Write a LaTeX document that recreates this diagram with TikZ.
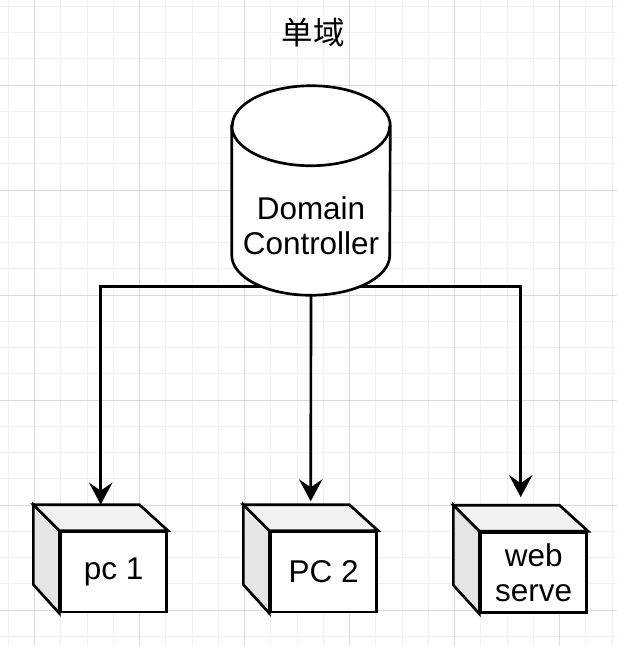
\documentclass[tikz,border=0pt]{standalone}
\usepackage{fontspec}
\setmainfont{Liberation Sans}
\newfontfamily\cjkfont{Noto Sans CJK SC}
\usetikzlibrary{arrows.meta,calc}

\tikzset{
  gridminor/.style={draw=black!6, line width=0.75pt},
  gridmajor/.style={draw=black!15, line width=0.75pt},
  outline/.style={draw=black, line width=2pt, line join=miter},
  front/.style={outline, fill=white, minimum width=79.5pt, minimum height=60pt,
    inner sep=0pt, align=center, font=\fontsize{23.6}{26.25}\selectfont},
  link/.style={draw=black, line width=2pt,
    -{Stealth[length=16.5pt, width=17.5pt, inset=6pt]}},
}

% front face named #1, cube drawn round it
\newcommand{\pcbox}[3]{%
  \node[front] (#1) at (#2) {#3};
  \filldraw[outline, fill=black!10] (#1.north west) -- ++(-26,-26) -- ++(0,80) -- (#1.south west) -- cycle;
  \filldraw[outline, fill=black!5] (#1.north west) -- ++(-26,-26) -- ++(106,0) -- (#1.north east) -- cycle;
  \coordinate (#1top) at ($(#1.north)+(-13,-26)$);
}

\begin{document}
\begin{tikzpicture}[x=0.75pt, y=-0.75pt]
  \useasboundingbox (0,0) rectangle (617,646);
  \fill[white] (0,0) rectangle (617,646);

  % grid
  \foreach \k in {0,...,23}
    \draw[gridminor] ({8.35+26.25*\k},0) -- ({8.35+26.25*\k},646);
  \foreach \k in {0,...,24}
    \draw[gridminor] (0,{6.25+26.25*\k}) -- (617,{6.25+26.25*\k});
  \foreach \k in {0,...,5}
    \draw[gridmajor] ({34.6+105*\k},0) -- ({34.6+105*\k},646);
  \foreach \k in {0,...,5}
    \draw[gridmajor] (0,{85+105*\k}) -- (617,{85+105*\k});

  \node[font=\cjkfont\fontsize{23.6}{26}\selectfont] (title) at (313,33) {单域};

  \pcbox{pc1}{113.7,572}{pc 1}
  \pcbox{pc2}{323.7,572}{PC 2}
  \pcbox{web}{533.7,572.5}{web\\serve}

  \node[minimum width=118.5pt, minimum height=156.75pt, inner sep=0pt] (dc) at (311,190.5) {};
  \coordinate (dchub) at ($(dc.south)+(0,-9)$);

  \draw[link] (dchub) -| (pc1top);
  \draw[link, shorten >=2.5pt] (dc.south) -- (pc2top);
  \draw[link, shorten >=6pt] (dchub) -| (webtop);

  % cylinder
  \filldraw[outline, fill=white] ($(dc.north west)+(0,40)$) -- ($(dc.south west)+(0,-40)$)
    arc[start angle=180, end angle=360, x radius=59.25pt, y radius=30pt]
    -- ($(dc.north east)+(0,40)$)
    arc[start angle=0, end angle=180, x radius=59.25pt, y radius=30pt] -- cycle;
  \draw[outline] ($(dc.north west)+(0,40)$)
    arc[start angle=180, end angle=360, x radius=59.25pt, y radius=30pt];
  \node[align=center, font=\fontsize{23.6}{26.25}\selectfont] (dctext) at (311,226) {Domain\\Controller};
\end{tikzpicture}
\end{document}
